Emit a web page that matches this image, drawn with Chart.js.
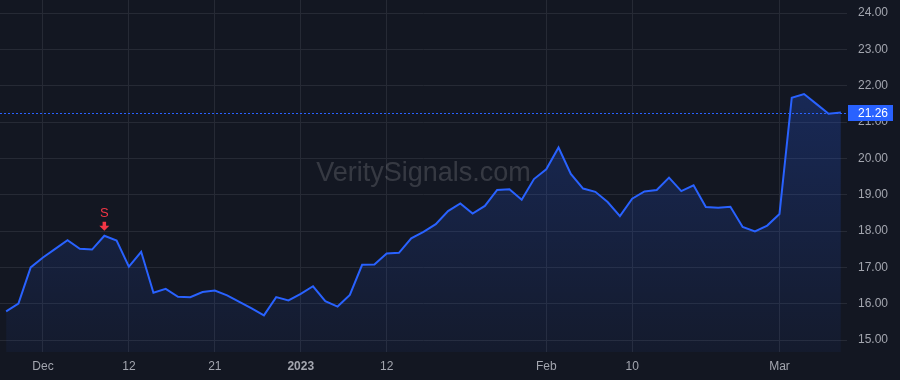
<!DOCTYPE html>
<html>
<head>
<meta charset="utf-8">
<style>
html,body{margin:0;padding:0;background:#131722;}
#wrap{width:900px;height:380px;position:relative;}
</style>
<script src="https://cdn.jsdelivr.net/npm/chart.js@4.4.0/dist/chart.umd.min.js"></script>
</head>
<body>
<div id="wrap"><canvas id="c"></canvas></div>
<script>
const dates = [
  '2022-11-28','2022-11-29','2022-11-30',
  '2022-12-01','2022-12-02','2022-12-05','2022-12-06','2022-12-07','2022-12-08','2022-12-09',
  '2022-12-12','2022-12-13','2022-12-14','2022-12-15','2022-12-16',
  '2022-12-19','2022-12-20','2022-12-21','2022-12-22','2022-12-23',
  '2022-12-27','2022-12-28','2022-12-29','2022-12-30',
  '2023-01-03','2023-01-04','2023-01-05','2023-01-06',
  '2023-01-09','2023-01-10','2023-01-11','2023-01-12','2023-01-13',
  '2023-01-17','2023-01-18','2023-01-19','2023-01-20',
  '2023-01-23','2023-01-24','2023-01-25','2023-01-26','2023-01-27',
  '2023-01-30','2023-01-31',
  '2023-02-01','2023-02-02','2023-02-03',
  '2023-02-06','2023-02-07','2023-02-08','2023-02-09','2023-02-10',
  '2023-02-13','2023-02-14','2023-02-15','2023-02-16','2023-02-17',
  '2023-02-21','2023-02-22','2023-02-23','2023-02-24',
  '2023-02-27','2023-02-28',
  '2023-03-01','2023-03-02','2023-03-03',
  '2023-03-06','2023-03-07','2023-03-08'
];
const closes = [
  15.79,16.00,17.00,
  17.27,17.51,17.75,17.51,17.49,17.87,17.74,
  17.02,17.43,16.30,16.41,16.19,
  16.18,16.32,16.36,16.23,16.05,
  15.87,15.68,16.18,16.09,
  16.27,16.48,16.07,15.92,
  16.24,17.07,17.08,17.38,17.40,
  17.80,17.98,18.19,18.55,
  18.76,18.48,18.69,19.13,19.15,
  18.86,19.43,
  19.70,20.30,19.57,
  19.17,19.08,18.80,18.41,18.89,
  19.09,19.13,19.47,19.10,19.26,
  18.66,18.64,18.67,18.11,
  17.99,18.15,
  18.47,21.67,21.77,
  21.50,21.23,21.26
];
const tickDates = ['2022-12-01','2022-12-12','2022-12-21','2023-01-03','2023-01-12','2023-02-01','2023-02-10','2023-03-01'];
const tickLabels = ['Dec','12','21','2023','12','Feb','10','Mar'];
const boldTickLabels = ['2023'];
const yTicks = [15,16,17,18,19,20,21,22,23,24];
const signalDates = ['2022-12-08'];
const signalTexts = ['S'];
const watermarkText = 'VeritySignals.com';

const BG = '#131722';
const GRID = '#262a35';
const TEXT = '#a3a6af';
const BLUE = '#2962ff';
const RED = '#f23645';
const FONT = '"Liberation Sans", Arial, sans-serif';

const bgPlugin = {
  id: 'bg',
  beforeDraw(chart) {
    const c = chart.ctx;
    c.save();
    c.fillStyle = BG;
    c.fillRect(0, 0, chart.width, chart.height);
    c.restore();
  }
};

const watermarkPlugin = {
  id: 'watermark',
  beforeDatasetsDraw(chart) {
    const c = chart.ctx, a = chart.chartArea;
    c.save();
    c.font = '27px ' + FONT;
    c.fillStyle = 'rgba(255,255,255,0.15)';
    c.textAlign = 'center';
    c.textBaseline = 'alphabetic';
    c.fillText(watermarkText, (a.left + a.right) / 2, 181);
    c.restore();
  }
};

const overlayPlugin = {
  id: 'overlay',
  afterDatasetsDraw(chart) {
    const c = chart.ctx, a = chart.chartArea;
    const xs = chart.scales.x, ys = chart.scales.y;
    const last = closes[closes.length - 1];
    const py = Math.round(ys.getPixelForValue(last)) + 0.5;
    c.save();
    c.strokeStyle = BLUE;
    c.lineWidth = 1;
    c.setLineDash([2, 2]);
    c.beginPath();
    c.moveTo(a.left, py);
    c.lineTo(a.right + 1, py);
    c.stroke();
    c.setLineDash([]);
    c.fillStyle = BLUE;
    c.fillRect(a.right + 1, py - 8.5, 45, 16);
    c.fillStyle = '#ffffff';
    c.font = '12px ' + FONT;
    c.textAlign = 'left';
    c.textBaseline = 'middle';
    c.fillText(last.toFixed(2), a.right + 11, py + 0.5);
    signalDates.forEach((d, k) => {
      const i = dates.indexOf(d);
      const x = xs.getPixelForValue(i);
      const y = ys.getPixelForValue(closes[i]);
      const tip = y - 5;
      c.fillStyle = RED;
      c.beginPath();
      c.moveTo(x, tip);
      c.lineTo(x - 5, tip - 5);
      c.lineTo(x + 5, tip - 5);
      c.closePath();
      c.fill();
      c.fillRect(x - 1.75, tip - 9, 3.5, 4.5);
      c.font = '13px ' + FONT;
      c.textAlign = 'center';
      c.textBaseline = 'middle';
      c.fillText(signalTexts[k], x, tip - 17.5);
    });
    c.restore();
  }
};

new Chart(document.getElementById('c'), {
  type: 'line',
  data: {
    labels: dates,
    datasets: [{
      data: closes,
      borderColor: BLUE,
      borderWidth: 2,
      pointRadius: 0,
      tension: 0,
      fill: 'start',
      backgroundColor: (ctx) => {
        const chart = ctx.chart;
        const a = chart.chartArea;
        if (!a) return 'rgba(41,98,255,0.15)';
        const g = chart.ctx.createLinearGradient(0, a.top, 0, a.bottom);
        g.addColorStop(0, 'rgba(41,98,255,0.30)');
        g.addColorStop(1, 'rgba(41,98,255,0.05)');
        return g;
      }
    }]
  },
  options: {
    responsive: true,
    maintainAspectRatio: false,
    animation: false,
    devicePixelRatio: 1,
    layout: { padding: 0, autoPadding: false },
    plugins: { legend: { display: false }, tooltip: { enabled: false } },
    scales: {
      x: {
        type: 'category',
        offset: true,
        border: { display: false },
        grid: { color: GRID, drawTicks: false, offset: false },
        afterBuildTicks: (s) => { s.ticks = tickDates.map(d => ({ value: dates.indexOf(d) })); },
        afterFit: (s) => { s.height = 28; s.paddingLeft = 0; s.paddingRight = 0; },
        ticks: {
          autoSkip: false,
          maxRotation: 0,
          padding: 7,
          color: TEXT,
          font: (ctx) => ({ family: FONT, size: 12, weight: boldTickLabels.includes(tickLabels[ctx.index]) ? 'bold' : 'normal' }),
          callback: (v, i) => tickLabels[i]
        }
      },
      y: {
        type: 'linear',
        position: 'right',
        min: 14.67,
        max: 24.36,
        border: { display: false },
        grid: { color: GRID, drawTicks: false },
        afterBuildTicks: (s) => { s.ticks = yTicks.map(v => ({ value: v })); },
        afterFit: (s) => { s.width = 53; s.paddingTop = 0; s.paddingBottom = 0; },
        ticks: {
          padding: 11,
          color: TEXT,
          font: { family: FONT, size: 12 },
          callback: (v) => Number(v).toFixed(2)
        }
      }
    }
  },
  plugins: [bgPlugin, watermarkPlugin, overlayPlugin]
});
</script>
</body>
</html>
